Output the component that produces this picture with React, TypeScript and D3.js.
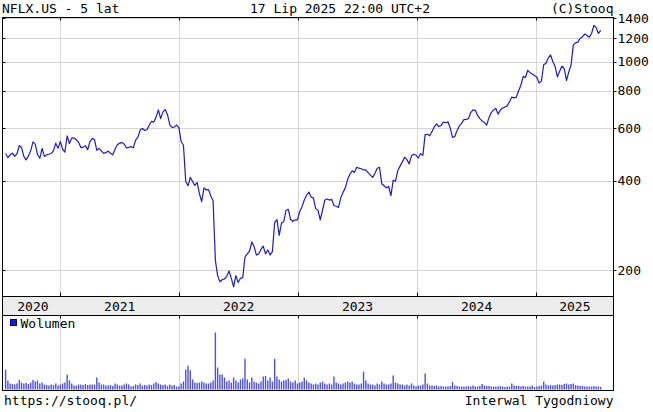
import React from "react";
import * as d3 from "d3";

// Weekly closes NFLX.US, from 2020-07-17, one value per week
const closes2020 = [493,477,488,494,482,492,524,516,482,469,483,503,539,530,489,475,513,482,488,490,493,503,534,513,541];
const closes2021 = [510,498,565,532,555,556,548,538,516,518,523,508,540,553,549,505,513,503,493,497,502,494,488,509,527,533,537,530,515,517,520,515,546,558,591,598,589,592,613,632,628,653,690,645,680,692,665,616,603,604,614,602];
const closes2022 = [541,525,397,384,410,397,385,394,362,340,378,372,373,355,342,216,192,183,186,187,191,199,188,176,192,182,188,189,222,227,232,249,240,225,227,235,241,227,234,225,231,289,296,262,288,291,318,320,296,292,295,295];
const closes2023 = [315,327,344,357,366,352,350,322,318,295,318,344,347,344,346,330,328,325,350,365,378,403,420,431,426,443,440,438,434,434,425,417,410,423,440,443,390,384,378,382,356,401,398,432,447,462,479,470,455,484,490,487];
const closes2024 = [476,492,486,570,572,565,583,605,620,607,612,628,625,630,600,558,562,588,610,622,640,641,645,676,690,688,662,645,633,626,614,650,676,690,698,668,690,700,706,712,735,762,757,762,800,835,894,886,937,920,911,900];
const closes2025 = [888,850,862,978,990,1030,1055,1003,965,891,930,968,950,866,925,975,1140,1160,1165,1200,1215,1240,1225,1210,1245,1325,1305,1245,1275];

// Weekly volume (mln shares)
const vol2020 = [80,36,24,22,20,24,38,28,24,26,22,28,38,32,36,24,28,20,18,16,20,18,24,16,20];
const vol2021 = [24,28,59,36,24,16,16,20,20,18,22,18,20,20,20,48,28,20,20,16,16,18,14,24,20,16,16,20,24,20,12,14,20,18,24,16,18,16,20,18,24,30,24,20,18,20,14,20,16,18,12,12];
const vol2022 = [24,32,80,95,77,40,28,26,28,32,28,24,24,28,36,228,88,60,60,48,32,36,28,48,36,28,40,44,123,40,28,48,32,28,24,32,52,54,36,48,32,123,52,40,32,36,38,44,32,28,36,24];
const vol2023 = [28,32,48,36,28,24,20,24,20,28,32,24,20,24,20,52,28,24,20,24,28,32,28,32,24,20,20,24,72,36,24,20,20,16,24,20,32,24,20,20,24,56,28,24,20,20,16,20,16,24,16,12];
const vol2024 = [16,16,20,64,24,16,16,14,16,12,14,12,12,12,14,30,16,14,12,12,12,12,14,12,16,12,12,14,22,16,14,14,12,12,12,12,14,12,10,12,12,24,16,14,14,12,14,12,12,12,16,10];
const vol2025 = [12,14,16,32,20,16,18,16,18,20,20,18,22,24,20,22,24,18,16,14,14,12,12,12,12,14,12,12,10];

const priceTicks = [200, 400, 600, 800, 1000, 1200, 1400];
const yearLabels = [2020, 2021, 2022, 2023, 2024, 2025];
const startDate = new Date(2020, 6, 17);

const title = "NFLX.US - 5 lat";
const dateText = "17 Lip 2025 22:00 UTC+2";
const copyright = "(C)Stooq";
const volumeLabel = "Wolumen";
const footerLeft = "https://stooq.pl/";
const footerRight = "Interwal Tygodniowy";

const FONT = "DejaVu Sans Mono, monospace";

export default function App() {
  const closes = [...closes2020, ...closes2021, ...closes2022, ...closes2023, ...closes2024, ...closes2025];
  const volumes = [...vol2020, ...vol2021, ...vol2022, ...vol2023, ...vol2024, ...vol2025];
  const dates = closes.map((_, i) => d3.timeDay.offset(startDate, 7 * i));
  const data = closes.map((c, i) => ({ date: dates[i], close: c, vol: volumes[i] }));

  const L = 2.5, R = 613.5;
  const pTop = 17.5, pBot = 296.5;
  const bandBot = 315.5;
  const vBot = 390.5;

  const x = d3.scaleTime().domain([dates[0], dates[dates.length - 1]]).range([5.6, 600.7]);
  const y = d3.scaleLog().domain([200, 1400]).range([270.3, 18.3]);
  const yv = d3.scaleLinear().domain([0, 294]).range([389.5, 316]);

  const line = d3.line<any>().x(d => x(d.date)).y(d => y(d.close));

  const yearStarts = yearLabels.map(yr => new Date(yr, 0, 1));
  const bounds = yearStarts.slice(1).map(d => Math.round(x(d)) + 0.5);

  const yearCenters = yearLabels.map((yr, i) => {
    const a = Math.max(x(yearStarts[i]), x(dates[0]));
    const b = Math.min(x(new Date(yr + 1, 0, 1)), R);
    return (a + b) / 2;
  });

  const grid = "#d4d4d4";

  return (
    <svg width={653} height={412} style={{ position: "absolute", left: 0, top: 0, background: "#fff" }}
      fontFamily={FONT} fontSize={13}>
      <rect x={0} y={0} width={653} height={412} fill="#fff" />
      {/* header */}
      <text x={2} y={12.5} fill="#000">{title}</text>
      <text x={250} y={12.5} fill="#000">{dateText}</text>
      <text x={R} y={12.5} fill="#000" textAnchor="end">{copyright}</text>

      {/* price grid */}
      {priceTicks.map(t => (
        <line key={"g" + t} x1={L} x2={R} y1={Math.round(y(t)) + 0.5} y2={Math.round(y(t)) + 0.5} stroke={grid} />
      ))}
      {bounds.map((bx, i) => (
        <line key={"vg" + i} x1={bx} x2={bx} y1={pTop} y2={pBot} stroke={grid} />
      ))}
      {bounds.map((bx, i) => (
        <line key={"vgv" + i} x1={bx} x2={bx} y1={bandBot} y2={vBot} stroke={grid} />
      ))}

      {/* price line */}
      <path d={line(data) || ""} fill="none" stroke="#1c1cc8" strokeWidth={1.2} strokeLinejoin="round" />

      {/* volume bars */}
      {data.map((d, i) => (
        <rect key={"v" + i} x={x(d.date) - 0.7} width={1.4} y={yv(d.vol)} height={yv(0) - yv(d.vol)} fill="#4f4fe4" />
      ))}

      {/* year band */}
      <rect x={L} y={pBot} width={R - L} height={bandBot - pBot} fill="#ececec" stroke="#000" />
      {yearLabels.map((yr, i) => (
        <text key={"yl" + yr} x={yearCenters[i]} y={310.5} textAnchor="middle" fill="#000">{yr}</text>
      ))}

      {/* frames */}
      <rect x={L} y={pTop} width={R - L} height={pBot - pTop} fill="none" stroke="#000" />
      <rect x={L} y={bandBot} width={R - L} height={vBot - bandBot} fill="none" stroke="#000" />

      {/* year ticks */}
      {bounds.map((bx, i) => (
        <g key={"yt" + i} stroke="#000">
          <line x1={bx} x2={bx} y1={pTop} y2={pTop + 3} />
          <line x1={bx} x2={bx} y1={pBot - 4} y2={pBot} />
          <line x1={bx} x2={bx} y1={bandBot} y2={bandBot + 3} />
        </g>
      ))}

      {/* price axis ticks and labels */}
      {priceTicks.map(t => {
        const ty = Math.round(y(t)) + 0.5;
        return (
          <g key={"pt" + t}>
            <line x1={R} x2={R + 3} y1={ty} y2={ty} stroke="#000" />
            <line x1={L} x2={L + 3} y1={ty} y2={ty} stroke="#000" />
            <text x={617.5} y={y(t)} dominantBaseline="central" fill="#000">{t}</text>
          </g>
        );
      })}

      {/* volume legend */}
      <rect x={10.5} y={319.5} width={6} height={6} fill="#1a1ad8" stroke="#000070" />
      <text x={20.5} y={327.5} fill="#000">{volumeLabel}</text>

      {/* footer */}
      <text x={4} y={404.5} fill="#000">{footerLeft}</text>
      <text x={R} y={404.5} fill="#000" textAnchor="end">{footerRight}</text>
    </svg>
  );
}
